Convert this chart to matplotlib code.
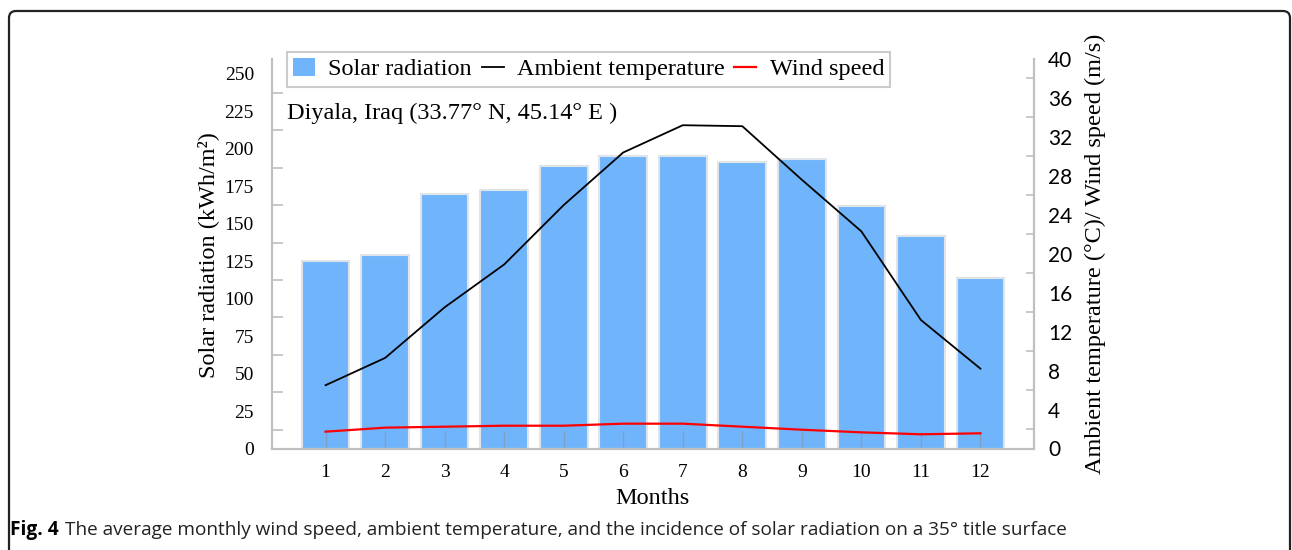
import numpy as np
import matplotlib
matplotlib.use('Agg')
import matplotlib.pyplot as plt
from matplotlib.patches import FancyBboxPatch, Patch
from matplotlib.lines import Line2D
from matplotlib.transforms import IdentityTransform

# valores
months = [1, 2, 3, 4, 5, 6, 7, 8, 9, 10, 11, 12]
solar = [125, 129, 170, 172.5, 188.5, 195.5, 195.5, 191, 193, 162, 142, 114]
temp = [6.5, 9.3, 14.5, 18.9, 25.0, 30.4, 33.2, 33.1, 27.6, 22.3, 13.2, 8.2]
wind = [1.73, 2.14, 2.24, 2.34, 2.34, 2.55, 2.55, 2.24, 1.93, 1.66, 1.46, 1.56]

left_ticks = np.arange(0, 251, 25)
right_ticks = np.arange(0, 41, 4)

serif = 'Liberation Serif'
bar_color = '#70b5fc'
gray = '#bfbfbf'

fig = plt.figure(figsize=(12.92, 5.5), dpi=100)
ax = fig.add_axes([272/1292, 1-448.5/550, (1034-272)/1292, (448.5-59)/550])
ax2 = ax.twinx()

ax.bar(months, solar, width=0.8, color=bar_color, edgecolor='#dfe4ea', linewidth=1.5, zorder=1)
ax2.plot(months, temp, color='black', lw=1.3)
ax2.plot(months, wind, color='red', lw=1.6)

ax.set_xlim(0.1, 12.9)
ax.set_ylim(0, 260)
ax2.set_ylim(0, 40)

ax.spines['top'].set_visible(False)
ax2.spines['top'].set_visible(False)
for a in (ax, ax2):
  for s in ['left', 'right', 'bottom']:
    a.spines[s].set_color(gray)
    a.spines[s].set_linewidth(1.5)

ax.set_xticks(months)
ax.set_xticklabels([str(m) for m in months], family=serif, fontsize=14)
ax.tick_params(axis='x', direction='in', length=13, width=1, color='#7f9fc4', pad=11)

ax.set_yticks(left_ticks)
ax.set_yticklabels([str(v) for v in left_ticks], family=serif, fontsize=14)
ax.set_yticks(left_ticks[:-1] + 12.5, minor=True)
ax.tick_params(axis='y', which='major', length=0, pad=13)
ax.tick_params(axis='y', which='minor', direction='in', length=8, width=1.2, color=gray)

ax2.set_yticks(right_ticks)
ax2.set_yticklabels([str(v) for v in right_ticks], family='Lato', fontsize=15)
ax2.set_yticks(right_ticks[:-1] + 2, minor=True)
ax2.tick_params(axis='y', which='major', length=0, pad=10)
ax2.tick_params(axis='y', which='minor', direction='in', length=6, width=1.2, color=gray)

fig.text(208/1292, 1-255/550, 'Solar radiation (kWh/m\u00b2)', family=serif, fontsize=17.5,
         rotation=90, ha='center', va='center')
fig.text(1095/1292, 1-254/550, 'Ambient temperature (\u00b0C)/ Wind speed (m/s)', family=serif,
         fontsize=17.5, rotation=90, ha='center', va='center')
fig.text(652/1292, 1-498/550, 'Months', family=serif, fontsize=17.5, ha='center', va='center')
fig.text(287/1292, 1-113/550, 'Diyala, Iraq (33.77\u00b0 N, 45.14\u00b0 E )', family=serif,
         fontsize=17.5, ha='left', va='center')

handles = [Patch(facecolor=bar_color, edgecolor='none'),
           Line2D([], [], color='black', lw=1.3),
           Line2D([], [], color='red', lw=1.6)]
leg = ax2.legend(handles, ['Solar radiation', 'Ambient temperature', 'Wind speed'],
                 loc='upper left', bbox_to_anchor=(287/1292, 1-52/550),
                 bbox_transform=fig.transFigure, ncol=3, frameon=True, fancybox=False,
                 prop={'family': serif, 'size': 17.5}, handlelength=0.9, handleheight=0.75,
                 handletextpad=0.55, columnspacing=0.4, borderpad=0.25, borderaxespad=0)
leg.get_frame().set_edgecolor(gray)
leg.get_frame().set_linewidth(1.5)

frame = FancyBboxPatch((9, -10), 1281, 549, boxstyle='round,pad=0,rounding_size=7',
                       transform=IdentityTransform(), fill=False, lw=1.6, ec='#222222')
fig.add_artist(frame)

fig.text(10/1292, 1-530/550, 'Fig. 4', family='Open Sans', fontweight='bold', fontsize=13.8,
         ha='left', va='center')
fig.text(65/1292, 1-530/550,
         'The average monthly wind speed, ambient temperature, and the incidence of solar radiation on a 35\u00b0 title surface',
         family='Open Sans', fontsize=13.7, ha='left', va='center', color='#222222')

fig.savefig('out.png', dpi=100)
